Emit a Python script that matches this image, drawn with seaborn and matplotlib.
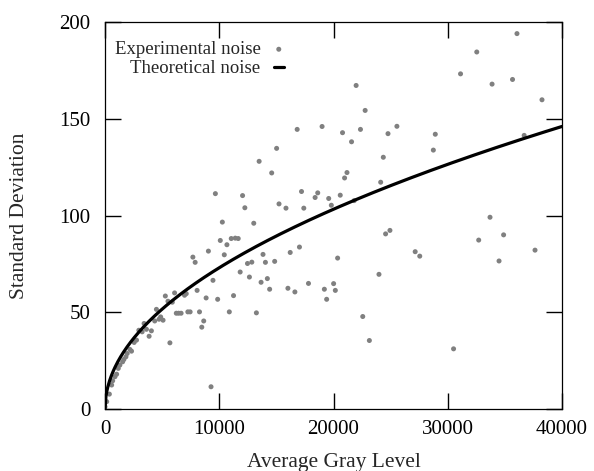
import matplotlib
matplotlib.use("Agg")
import matplotlib.pyplot as plt
import numpy as np
import seaborn as sns

# experimental points (gray level, std dev)
exp_gray = [
    16820, 19000, 15020, 13490, 14590,
    9660, 12040, 12240, 17200, 18620, 15230, 15840, 17400, 18390, 19580, 19810,
    10270, 10090, 10670, 11050, 11400, 11660, 13020,
    10440, 7690, 7890, 9050, 9450, 8060, 8850, 9860, 11250, 10880, 8270, 8640, 8470,
    6240, 6440, 6660, 7250, 7450,
    5280, 6090, 5890, 5510, 6960, 7110,
    13250, 11830, 12640, 12470, 12850, 13830, 14040, 14850, 13660, 14210, 14410,
    16010, 16620, 16210, 17020, 17810, 19200, 19400, 20010, 20160, 20360,
    9280, 5680,
    4500, 4870, 5080, 4730, 4350, 3420, 3625, 4060, 3860, 2960, 3250, 2755, 2550,
    2320, 2175, 1940, 1830, 1650, 1540, 1300, 1160, 1015, 870, 670, 580, 380, 145, 0,
    36060, 32540, 31120, 33880, 35670, 38250, 21980, 22770, 20790, 22360, 21580,
    24770, 25550, 28910, 28740, 36690, 24360, 21180, 20970, 24130, 20590, 21810,
    33700, 32710, 34890, 37640, 34490, 24560, 24940, 27150, 27550, 23980, 22560,
    23140, 30510,
]
exp_std = [
    144.5, 146, 134.7, 128, 122,
    111.3, 110.3, 104, 112.4, 111.7, 106, 103.8, 103.8, 109.3, 108.8, 105.3,
    96.6, 87.1, 84.9, 88.1, 88.3, 88.1, 96.0,
    79.7, 78.5, 75.8, 81.6, 66.5, 61.3, 57.4, 56.7, 58.6, 50.2, 50.2, 45.5, 42.3,
    49.5, 49.5, 49.5, 50.2, 50.2,
    58.4, 60, 55.2, 55.7, 58.8, 59.6,
    49.7, 70.8, 68.2, 75.2, 75.9, 79.9, 75.8, 76.3, 65.5, 67.4, 61.9,
    62.4, 60.5, 80.9, 83.7, 64.9, 61.9, 56.7, 64.8, 61.3, 78,
    11.5, 34.2,
    51.5, 47.6, 45.9, 46.4, 45.5, 44.2, 41.2, 40.4, 37.6, 40.7, 39.9, 35.6, 34.4,
    29.9, 30.8, 28.7, 27, 25.6, 24.4, 22.7, 21, 18, 16.7, 14.6, 12.4, 7.7, 3.8, 1.2,
    194, 184.5, 173.2, 167.9, 170.3, 159.8, 167.2, 154.3, 142.8, 144.5, 138.1,
    142.3, 146.1, 142, 133.8, 141.4, 130.1, 122.2, 119.4, 117.2, 110.5, 107.7,
    99.1, 87.3, 90, 82.1, 76.5, 90.5, 92.3, 81.3, 79, 69.6, 47.8,
    35.4, 31.1,
]

# theoretical noise model: std = sqrt(gain * gray level)
gain = 0.533
theo_gray = np.linspace(0, 40000, 500)
theo_std = np.sqrt(gain * theo_gray)

sns.set_style("ticks")
plt.rcParams['font.family'] = ['Liberation Serif', 'DejaVu Serif']

fig = plt.figure(figsize=(5.94, 4.71), dpi=100)
ax = fig.add_axes([0.1768, 0.1316, 0.7693, 0.8217])

sns.scatterplot(x=exp_gray, y=exp_std, ax=ax, color='#808080', s=13,
                edgecolor='none', label='Experimental noise', zorder=2)
sns.lineplot(x=theo_gray, y=theo_std, ax=ax, color='black', linewidth=2.3,
             label='Theoretical noise', zorder=3)

ax.set_xlim(0, 40000)
ax.set_ylim(0, 200)
ax.set_xticks([0, 10000, 20000, 30000, 40000])
ax.set_yticks([0, 50, 100, 150, 200])
ax.tick_params(direction='in', length=11.5, width=1, top=True, right=True,
               labelsize=15, colors='black')
ax.tick_params(axis='x', pad=8)
ax.tick_params(axis='y', pad=10.5)
for sp in ax.spines.values():
    sp.set_visible(True)
    sp.set_linewidth(0.9)
    sp.set_color('black')

ax.set_xlabel('Average Gray Level', fontsize=15.5, labelpad=10)
ax.set_ylabel('Standard Deviation', fontsize=15.5, labelpad=22)

ax.legend(loc='upper left', bbox_to_anchor=(0.0005, 0.975), frameon=False,
          markerfirst=False, fontsize=13.5, handlelength=0.55,
          handletextpad=0.7, labelspacing=0.1, borderpad=0,
          markerscale=1.0)

fig.savefig('out.png', dpi=100)
